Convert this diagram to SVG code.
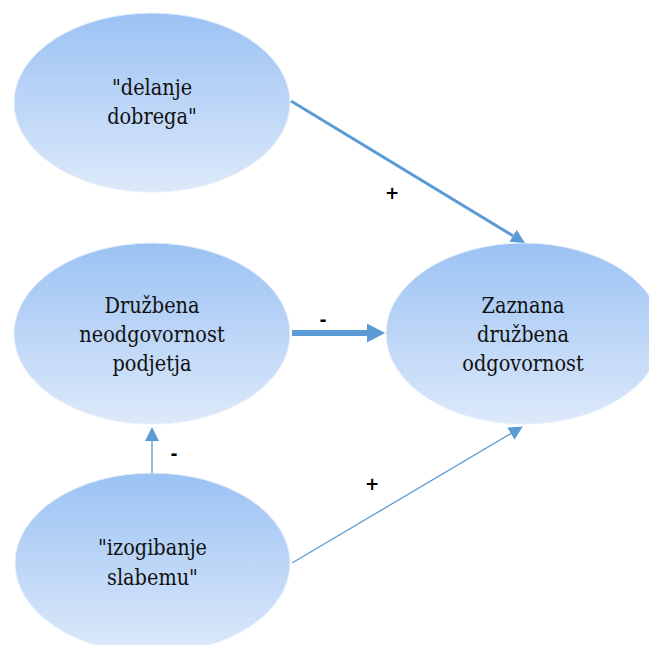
<svg xmlns="http://www.w3.org/2000/svg" width="649" height="645" viewBox="0 0 649 645">
<defs>
<linearGradient id="g" x1="0" y1="0" x2="0" y2="1">
<stop offset="0" stop-color="#9BC2F4"/>
<stop offset="1" stop-color="#DDE9FA"/>
</linearGradient>
<marker id="hBig" markerUnits="userSpaceOnUse" markerWidth="20" markerHeight="20" refX="0" refY="9.5" orient="auto" viewBox="0 0 20 20">
<path d="M0,0 L18,9.5 L0,19 z" fill="#5B9BD5"/>
</marker>
<marker id="hMid" markerUnits="userSpaceOnUse" markerWidth="16" markerHeight="16" refX="0" refY="7" orient="auto" viewBox="0 0 16 16">
<path d="M0,0 L14,7 L0,14 z" fill="#5B9BD5"/>
</marker>
<marker id="hSmall" markerUnits="userSpaceOnUse" markerWidth="16" markerHeight="16" refX="0" refY="7" orient="auto" viewBox="0 0 16 16">
<path d="M0,0 L14,7 L0,14 z" fill="#5B9BD5"/>
</marker>
</defs>
<style>
.node ellipse{fill:url(#g);stroke:#E6EFFB;stroke-width:1}
.node text{font-family:"DejaVu Serif",serif;font-size:23px;fill:#111;text-anchor:middle}
.conn line{stroke:#5B9BD5;fill:none}
.lbl{font-family:"DejaVu Sans",sans-serif;font-weight:bold;font-size:17px;fill:#000;text-anchor:middle}
</style>
<rect width="649" height="645" fill="#fff"/>
<g id="n1" class="node">
<ellipse cx="152" cy="102.5" rx="138" ry="89.5"/>
<g transform="translate(152 0) scale(0.84 1)">
<text x="0" y="95">"delanje</text>
<text x="0" y="124">dobrega"</text>
</g>
</g>
<g id="n2" class="node">
<ellipse cx="152" cy="333.5" rx="138" ry="90.5"/>
<g transform="translate(152 0) scale(0.84 1)">
<text x="0" y="313">Družbena</text>
<text x="0" y="342">neodgovornost</text>
<text x="0" y="371">podjetja</text>
</g>
</g>
<g id="n3" class="node">
<ellipse cx="524" cy="333.5" rx="138" ry="90.5"/>
<g transform="translate(523 0) scale(0.84 1)">
<text x="0" y="313">Zaznana</text>
<text x="0" y="342">družbena</text>
<text x="0" y="371">odgovornost</text>
</g>
</g>
<g id="n4" class="node">
<ellipse cx="152.5" cy="563" rx="137.5" ry="90"/>
<g transform="translate(152.5 0) scale(0.84 1)">
<text x="0" y="555">"izogibanje</text>
<text x="0" y="585">slabemu"</text>
</g>
</g>
<g id="connectors" class="conn">
<line x1="291" y1="101" x2="513" y2="235.7" stroke-width="3" marker-end="url(#hMid)"/>
<line x1="292" y1="333" x2="367" y2="333" stroke-width="6" marker-end="url(#hBig)"/>
<line x1="152" y1="473" x2="152" y2="441" stroke-width="1.3" marker-end="url(#hSmall)"/>
<line x1="292" y1="563" x2="510.8" y2="433.6" stroke-width="1.3" marker-end="url(#hSmall)"/>
</g>
<g id="labels">
<text class="lbl" x="392" y="199">+</text>
<text class="lbl" x="323" y="326">-</text>
<text class="lbl" x="174" y="460">-</text>
<text class="lbl" x="372" y="490">+</text>
</g>
</svg>
